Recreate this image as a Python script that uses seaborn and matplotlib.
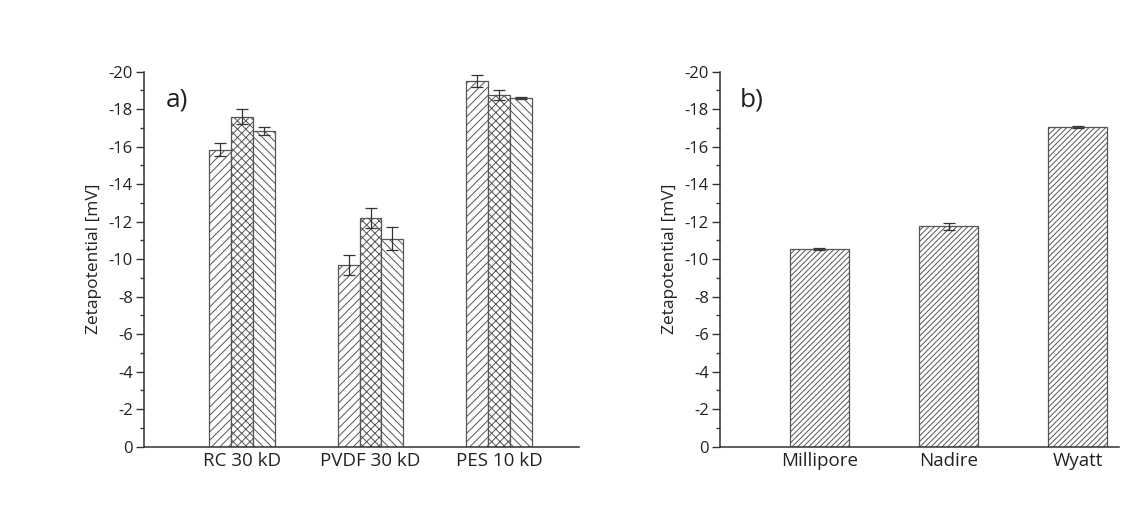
import matplotlib
matplotlib.use("Agg")
import matplotlib.pyplot as plt
import seaborn as sns
import pandas as pd
import numpy as np

# ---- data ----
membranes = ["RC 30 kD", "PVDF 30 kD", "PES 10 kD"]
series_a = ["s1", "s2", "s3"]
zeta_s1 = [-15.85, -9.7, -19.5]
zeta_s2 = [-17.6, -12.2, -18.75]
zeta_s3 = [-16.85, -11.1, -18.6]
err_s1 = [0.35, 0.55, 0.3]
err_s2 = [0.4, 0.55, 0.25]
err_s3 = [0.2, 0.6, 0.05]

suppliers = ["Millipore", "Nadire", "Wyatt"]
zeta_b = [-10.55, -11.75, -17.05]
err_b = [0.05, 0.2, 0.05]

y_ticks = [0, -2, -4, -6, -8, -10, -12, -14, -16, -18, -20]

# ---- style ----
sns.set_style("ticks")
plt.rcParams["font.family"] = ["Open Sans", "DejaVu Sans"]
plt.rcParams["axes.unicode_minus"] = False
plt.rcParams["hatch.linewidth"] = 0.7

edge = "#555555"
axis_col = "#333333"

df_a = pd.DataFrame({
    "membrane": membranes * 3,
    "series": [series_a[0]] * 3 + [series_a[1]] * 3 + [series_a[2]] * 3,
    "zeta": zeta_s1 + zeta_s2 + zeta_s3,
})
err_a = [err_s1, err_s2, err_s3]
df_b = pd.DataFrame({"supplier": suppliers, "zeta": zeta_b})

fig = plt.figure(figsize=(11.3, 5.27), dpi=100)
ax1 = fig.add_axes([144 / 1130, 1 - 446.7 / 527, (579 - 144) / 1130, 375 / 527])
ax2 = fig.add_axes([720 / 1130, 1 - 446.7 / 527, (1119 - 720) / 1130, 375 / 527])

# panel a
sns.barplot(data=df_a, x="membrane", y="zeta", hue="series", order=membranes,
            hue_order=series_a, palette=["white"] * 3, edgecolor=edge,
            linewidth=0.9, width=0.51, errorbar=None, legend=False,
            saturation=1, ax=ax1)
hatches_a = ["////", "xxxx", "\\\\\\\\"]
for cont, h, errs in zip(ax1.containers, hatches_a, err_a):
    xs, ys = [], []
    for p in cont.patches:
        p.set_hatch(h)
        xs.append(p.get_x() + p.get_width() / 2)
        ys.append(p.get_y() + p.get_height())
    ax1.errorbar(xs, ys, yerr=errs, fmt="none", ecolor=axis_col,
                 elinewidth=0.9, capsize=4, capthick=0.9, zorder=5)

# panel b
sns.barplot(data=df_b, x="supplier", y="zeta", order=suppliers,
            color="white", edgecolor=edge, linewidth=0.9, width=0.46,
            errorbar=None, saturation=1, ax=ax2)
xs, ys = [], []
for p in ax2.patches:
    p.set_hatch("//////")
    xs.append(p.get_x() + p.get_width() / 2)
    ys.append(p.get_y() + p.get_height())
ax2.errorbar(xs, ys, yerr=err_b, fmt="none", ecolor=axis_col,
             elinewidth=0.9, capsize=4, capthick=0.9, zorder=5)

for ax, xl, lab in [(ax1, (-0.76, 2.62), "a)"), (ax2, (-0.77, 2.32), "b)")]:
    ax.set_ylim(0, -20)
    ax.set_xlim(*xl)
    ax.set_yticks(y_ticks)
    ax.set_yticklabels([str(t) for t in y_ticks])
    ax.set_yticks(np.arange(-19, 0, 2), minor=True)
    ax.tick_params(axis="y", which="major", length=6, width=1, color=axis_col,
                   labelsize=12, labelcolor="#222222", pad=2)
    ax.tick_params(axis="y", which="minor", length=3, width=1, color=axis_col)
    ax.tick_params(axis="x", which="both", length=0, labelsize=13.5,
                   labelcolor="#222222", pad=4)
    ax.set_xlabel("")
    ax.set_ylabel("Zetapotential [mV]", fontsize=12.5, color="#222222", labelpad=5)
    sns.despine(ax=ax)
    for s in ["left", "bottom"]:
        ax.spines[s].set_color(axis_col)
        ax.spines[s].set_linewidth(1.1)
    ax.text(0.05, 0.925, lab, transform=ax.transAxes, fontsize=19,
            color="#222222", va="center", ha="left")

fig.savefig("out.png", dpi=100, facecolor="white")
